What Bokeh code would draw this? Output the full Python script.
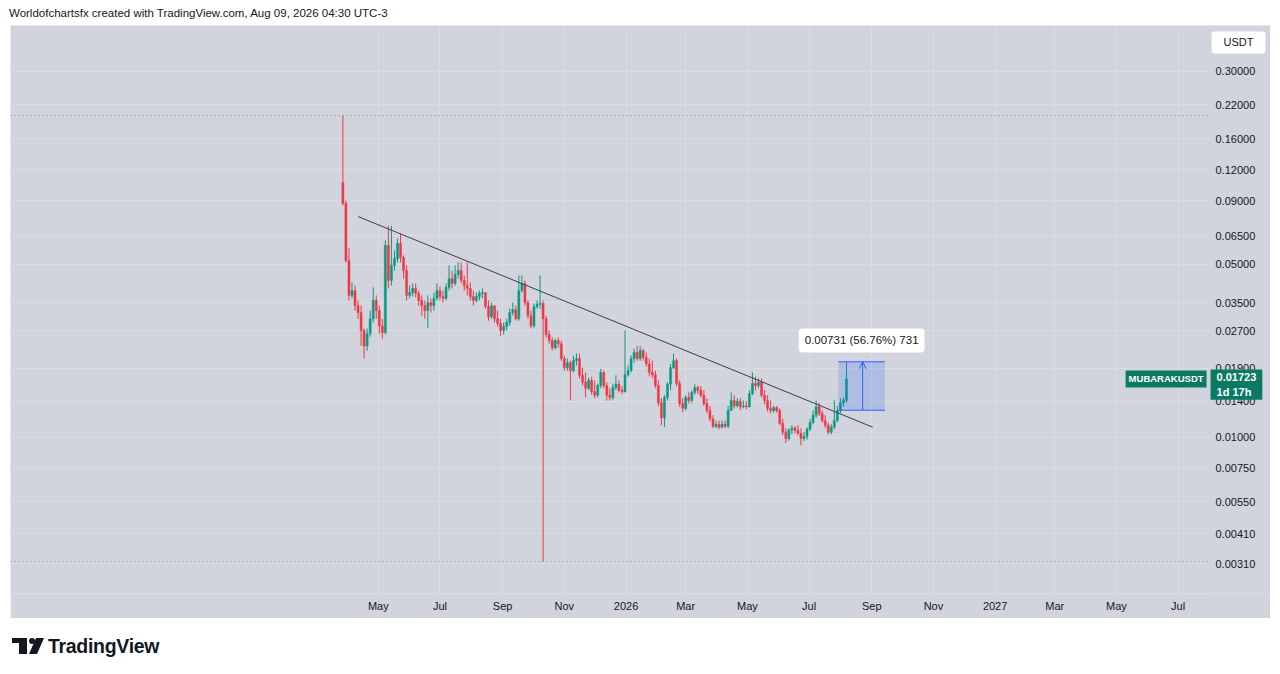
import numpy as np
import pandas as pd
from bokeh.plotting import figure
from bokeh.models import (Range1d, FixedTicker, NumeralTickFormatter, CustomJSTickFormatter,
                          Label, Arrow, OpenHead, Div, ColumnDataSource, BoxAnnotation)
from bokeh.layouts import column
from bokeh.embed import file_html
from bokeh.resources import INLINE

# ---------------- data ----------------
symbol = "MUBARAKUSDT"
quote = "USDT"
header_text = "Worldofchartsfx created with TradingView.com, Aug 09, 2026 04:30 UTC-3"
bar_start = "2025-03-27"      # 3-day candles
bar_step_days = 3
first_open = 0.1066

closes = [0.0878, 0.0517, 0.0374, 0.0391, 0.0340, 0.0319, 0.0270, 0.0234, 0.0262, 0.0301,
          0.0357, 0.0325, 0.0282, 0.0265, 0.0595, 0.0430, 0.0494, 0.0527, 0.0606, 0.0532,
          0.0471, 0.0374, 0.0384, 0.0399, 0.0381, 0.0357, 0.0340, 0.0325, 0.0350, 0.0340,
          0.0364, 0.0391, 0.0370, 0.0364, 0.0403, 0.0437, 0.0418, 0.0454, 0.0471, 0.0430,
          0.0410, 0.0399, 0.0370, 0.0357, 0.0370, 0.0381, 0.0384, 0.0337, 0.0307, 0.0340,
          0.0301, 0.0288, 0.0270, 0.0280, 0.0291, 0.0319, 0.0328, 0.0301, 0.0391, 0.0418,
          0.0350, 0.0310, 0.0282, 0.0337, 0.0344, 0.0347, 0.0301, 0.0260, 0.0246, 0.0230,
          0.0246, 0.0239, 0.0208, 0.0191, 0.0200, 0.0186, 0.0204, 0.0208, 0.0178, 0.0167,
          0.0158, 0.0170, 0.0153, 0.0148, 0.0162, 0.0183, 0.0162, 0.0148, 0.0145, 0.0159,
          0.0164, 0.0155, 0.0153, 0.0179, 0.0186, 0.0208, 0.0220, 0.0208, 0.0224, 0.0210,
          0.0198, 0.0183, 0.0179, 0.0162, 0.0138, 0.0120, 0.0145, 0.0164, 0.0191, 0.0204,
          0.0165, 0.0137, 0.0131, 0.0145, 0.0141, 0.0152, 0.0159, 0.0155, 0.0148, 0.0137,
          0.01285, 0.0119, 0.0111, 0.0113, 0.0110, 0.0113, 0.0111, 0.01285, 0.0141, 0.0134,
          0.0140, 0.0133, 0.0134, 0.0133, 0.0150, 0.0165, 0.0162, 0.0167, 0.0148, 0.0141,
          0.0131, 0.01285, 0.0132, 0.01285, 0.0114, 0.0105, 0.0099, 0.0107, 0.0109, 0.0107,
          0.0104, 0.0099, 0.0101, 0.0108, 0.0115, 0.0123, 0.0133, 0.0125, 0.0117, 0.0112,
          0.0105, 0.0110, 0.0117, 0.01285, 0.0138, 0.0141, 0.01723]

highs = [0.1986, 0.0903, 0.0579, 0.0422, 0.0410, 0.0357, 0.0340, 0.0275, 0.0275, 0.0325,
         0.0403, 0.0374, 0.0340, 0.0301, 0.0623, 0.0714, 0.0714, 0.0568, 0.0635, 0.0665,
         0.0542, 0.0494, 0.0410, 0.0418, 0.0418, 0.0391, 0.0374, 0.0357, 0.0374, 0.0364,
         0.0384, 0.0418, 0.0406, 0.0391, 0.0418, 0.0494, 0.0471, 0.0494, 0.0508, 0.0508,
         0.0450, 0.0508, 0.0422, 0.0391, 0.0384, 0.0391, 0.0399, 0.0384, 0.0357, 0.0350,
         0.0340, 0.0325, 0.0301, 0.0291, 0.0301, 0.0331, 0.0350, 0.0340, 0.0450, 0.0450,
         0.0430, 0.0357, 0.0325, 0.0347, 0.0357, 0.0450, 0.0357, 0.0310, 0.0270, 0.0253,
         0.0250, 0.0253, 0.0246, 0.0214, 0.0208, 0.0204, 0.0214, 0.0218, 0.0218, 0.0191,
         0.0183, 0.0174, 0.0176, 0.0170, 0.0165, 0.0189, 0.0186, 0.0167, 0.0158, 0.0165,
         0.0178, 0.0170, 0.0161, 0.0270, 0.0195, 0.0214, 0.0228, 0.0234, 0.0234, 0.0228,
         0.0220, 0.0208, 0.0204, 0.0186, 0.0170, 0.0144, 0.0148, 0.0167, 0.0198, 0.0218,
         0.0208, 0.0170, 0.0144, 0.0148, 0.0152, 0.0155, 0.0164, 0.0162, 0.0161, 0.0155,
         0.0144, 0.0134, 0.0123, 0.0117, 0.0117, 0.0117, 0.0117, 0.0134, 0.0152, 0.0148,
         0.0144, 0.0144, 0.0141, 0.0140, 0.0155, 0.0183, 0.0176, 0.0173, 0.0173, 0.0155,
         0.0148, 0.0141, 0.0134, 0.0134, 0.0131, 0.0119, 0.0109, 0.0109, 0.0112, 0.0111,
         0.0112, 0.0109, 0.0105, 0.0110, 0.0119, 0.01285, 0.0141, 0.0138, 0.01285, 0.0123,
         0.0115, 0.0113, 0.0141, 0.0134, 0.0144, 0.0145, 0.02019]

lows = [0.0862, 0.0508, 0.0357, 0.0364, 0.0325, 0.0301, 0.0234, 0.0208, 0.0224, 0.0255,
        0.0291, 0.0301, 0.0262, 0.0250, 0.0260, 0.0399, 0.0410, 0.0471, 0.0508, 0.0508,
        0.0437, 0.0357, 0.0364, 0.0370, 0.0367, 0.0340, 0.0310, 0.0301, 0.0277, 0.0319,
        0.0325, 0.0357, 0.0357, 0.0350, 0.0357, 0.0391, 0.0399, 0.0410, 0.0437, 0.0418,
        0.0391, 0.0374, 0.0357, 0.0340, 0.0350, 0.0357, 0.0364, 0.0331, 0.0296, 0.0301,
        0.0291, 0.0280, 0.0257, 0.0260, 0.0270, 0.0282, 0.0310, 0.0296, 0.0296, 0.0384,
        0.0340, 0.0301, 0.0275, 0.0277, 0.0331, 0.0331, 0.00316, 0.0253, 0.0239, 0.0224,
        0.0226, 0.0230, 0.0204, 0.0186, 0.0186, 0.0141, 0.0183, 0.0195, 0.0173, 0.0162,
        0.0145, 0.0155, 0.0149, 0.0144, 0.0145, 0.0158, 0.0158, 0.0141, 0.0141, 0.0142,
        0.0155, 0.0152, 0.0149, 0.0152, 0.0176, 0.0183, 0.0200, 0.0204, 0.0204, 0.0204,
        0.0193, 0.0176, 0.0174, 0.0158, 0.0134, 0.0112, 0.0110, 0.0141, 0.0155, 0.0189,
        0.0161, 0.0133, 0.0126, 0.01285, 0.0137, 0.0138, 0.0149, 0.0150, 0.0145, 0.0134,
        0.0125, 0.0116, 0.0109, 0.0109, 0.0108, 0.0109, 0.0109, 0.0109, 0.01285, 0.0131,
        0.0132, 0.01285, 0.0131, 0.0130, 0.0132, 0.0148, 0.0155, 0.0158, 0.0145, 0.0136,
        0.0127, 0.0125, 0.0126, 0.0126, 0.0112, 0.0102, 0.0095, 0.0097, 0.0103, 0.0104,
        0.0102, 0.0093, 0.0097, 0.0098, 0.0106, 0.0113, 0.0120, 0.0122, 0.0115, 0.0109,
        0.0103, 0.0103, 0.0108, 0.0115, 0.0125, 0.0133, 0.0138]

price_ticks = [0.30, 0.22, 0.16, 0.12, 0.09, 0.065, 0.05, 0.035, 0.027, 0.019, 0.014,
               0.01, 0.0075, 0.0055, 0.0041, 0.0031]
month_ticks = ["2025-05-01", "2025-07-01", "2025-09-01", "2025-11-01", "2026-01-01",
               "2026-03-01", "2026-05-01", "2026-07-01", "2026-09-01", "2026-11-01",
               "2027-01-01", "2027-03-01", "2027-05-01", "2027-07-01"]
month_names = ["Jan", "Feb", "Mar", "Apr", "May", "Jun", "Jul", "Aug", "Sep", "Oct", "Nov", "Dec"]

trend_dates = ["2025-04-11", "2026-09-02"]
trend_prices = [0.0778, 0.0110]

measure_dates = ["2026-07-30", "2026-09-14"]
measure_prices = [0.01288, 0.02019]
measure_arrow_date = "2026-08-23"
measure_text = "0.00731 (56.76%) 731"
last_price_text = "0.01723"
countdown_text = "1d 17h"

# visible window: chart pane, then the price-scale strip on its right
view_start = "2024-05-02 07:00"
pane_end = "2027-07-30 02:00"
view_end = "2027-09-30 08:00"

# ---------------- styling ----------------
BG = "#d1d4dc"
GRID = "#dadce2"
UP = "#089981"
DOWN = "#f23645"
TAG = "#0b7a64"
TXT = "#131722"
FONT = "Liberation Sans"
DAY_MS = 86400000


def ms(s):
    return pd.Timestamp(s).timestamp() * 1000.0


dates = pd.date_range(bar_start, periods=len(closes), freq=f"{bar_step_days}D")
opens = [first_open] + closes[:-1]
o = np.array(opens)
c = np.array(closes)
colors = [UP if cc >= oo else DOWN for oo, cc in zip(o, c)]
src = ColumnDataSource(dict(date=dates, top=np.maximum(o, c), bottom=np.minimum(o, c),
                            high=highs, low=lows, color=colors))

p = figure(width=1260, height=593, x_axis_type="datetime", y_axis_type="log",
           y_axis_location="right",
           x_range=Range1d(ms(view_start), ms(view_end)),
           y_range=Range1d(0.002349, 0.4584),
           output_backend="svg", toolbar_location=None,
           min_border_left=0, min_border_top=0, min_border_right=0, min_border_bottom=25,
           background_fill_color=BG, border_fill_color=BG, outline_line_color=None)
p.margin = (0, 0, 0, 2)

# axes
yt = FixedTicker(ticks=price_ticks, minor_ticks=[])
xt = FixedTicker(ticks=[ms(d) for d in month_ticks], minor_ticks=[])
ya = p.yaxis[0]
ya.ticker = yt
ya.formatter = NumeralTickFormatter(format="0.00000")
xa = p.xaxis[0]
xa.ticker = xt
xa.formatter = CustomJSTickFormatter(args=dict(names=month_names), code="""
const d = new Date(tick);
const m = d.getUTCMonth();
if (m === 0) { return String(d.getUTCFullYear()); }
return names[m];
""")
for ax in (xa, ya):
    ax.axis_line_color = None
    ax.major_tick_line_color = None
    ax.minor_tick_line_color = None
    ax.major_tick_out = 0
    ax.major_tick_in = 0
    ax.major_label_text_font = FONT
    ax.major_label_text_font_size = "11px"
    ax.major_label_text_color = TXT
ya.major_label_standoff = -55   # labels sit inside the price-scale strip
xa.major_label_standoff = 6

p.xgrid.ticker = xt
p.ygrid.ticker = yt
p.xgrid.grid_line_color = GRID
p.ygrid.grid_line_color = GRID

# price-scale strip hides the grid on the right
p.add_layout(BoxAnnotation(left=ms(pane_end), fill_color=BG, fill_alpha=1.0,
                           line_color=None, level="underlay"))

# high / low dotted lines across the pane
hl = [max(highs), min(lows)]
p.segment(x0=[ms(view_start)] * 2, y0=hl, x1=[ms(pane_end)] * 2, y1=hl,
          line_color="#868993", line_dash="1 3", line_width=1)

# candles
p.segment(x0="date", y0="low", x1="date", y1="high", color="color", line_width=1, source=src)
p.vbar(x="date", width=2 * DAY_MS, top="top", bottom="bottom", fill_color="color",
       line_color="color", line_width=0.5, source=src)

# trend line
p.line([ms(d) for d in trend_dates], trend_prices, line_color="#3b3e48", line_width=1)

# measurement box
mx0, mx1 = ms(measure_dates[0]), ms(measure_dates[1])
p.quad(left=[mx0], right=[mx1], bottom=[measure_prices[0]], top=[measure_prices[1]],
       fill_color="#2962ff", fill_alpha=0.2, line_color=None)
p.segment(x0=[mx0, mx0], y0=measure_prices, x1=[mx1, mx1], y1=measure_prices,
          line_color="#2962ff", line_width=1)
p.add_layout(Arrow(end=OpenHead(size=7, line_color="#2962ff", line_width=1),
                   x_start=ms(measure_arrow_date), y_start=measure_prices[0],
                   x_end=ms(measure_arrow_date), y_end=measure_prices[1],
                   line_color="#2962ff", line_width=1))
p.add_layout(Label(x=ms(measure_arrow_date) - DAY_MS, y=measure_prices[1] * 1.22,
                   text=measure_text, text_align="center", text_baseline="middle",
                   text_font=FONT, text_font_size="11.5px", text_color=TXT,
                   background_fill_color="white", padding=6, border_radius=4))

# price tags
p.add_layout(Label(x=ms(pane_end), y=closes[-1], x_offset=-1, text=symbol,
                   text_align="right", text_baseline="middle", text_font=FONT,
                   text_font_size="9.5px", text_font_style="bold", text_color="white",
                   background_fill_color=TAG, padding=3))
p.add_layout(Label(x=ms(pane_end), y=closes[-1] * 1.092, x_offset=3,
                   text=last_price_text + "\n" + countdown_text,
                   text_align="left", text_baseline="top", text_font=FONT,
                   text_font_size="11px", text_font_style="bold", text_color="white",
                   background_fill_color=TAG, padding=(6, 2)))
p.add_layout(Label(x=ms(pane_end), y=0.3915, x_offset=4, text=quote,
                   text_align="left", text_baseline="middle", text_font=FONT,
                   text_font_size="11px", text_color=TXT,
                   background_fill_color="white", padding=(12, 5), border_radius=3))

header = Div(text=header_text, width=1262, height=17, margin=(0, 0, 0, 1),
             styles={"font-family": FONT, "font-size": "11.5px", "line-height": "11px",
                     "color": TXT, "white-space": "nowrap"})

logo_html = (
    '<div style="position:relative;width:300px;height:40px;">'
    '<svg style="position:absolute;left:2px;top:20px" width="34" height="17" viewBox="0 0 34 17">'
    '<rect x="2" y="0" width="15" height="5" fill="#131722"/>'
    '<rect x="9" y="0" width="8" height="16" fill="#131722"/>'
    '<circle cx="22" cy="3" r="3" fill="#131722"/>'
    '<polygon points="26,0 34,0 27,16 19,16" fill="#131722"/>'
    '</svg>'
    '<span style="position:absolute;left:40px;top:15px;font-family:\'Liberation Sans\';'
    'font-weight:700;font-size:19.5px;letter-spacing:-0.3px;color:#131722;">TradingView</span>'
    '</div>'
)
logo = Div(text=logo_html, width=1262, height=40, margin=(0, 0, 0, 0))

layout = column(header, p, logo, spacing=0)
layout.margin = (8, 0, 0, 8)

open("out.html", "w").write(file_html(layout, INLINE))
